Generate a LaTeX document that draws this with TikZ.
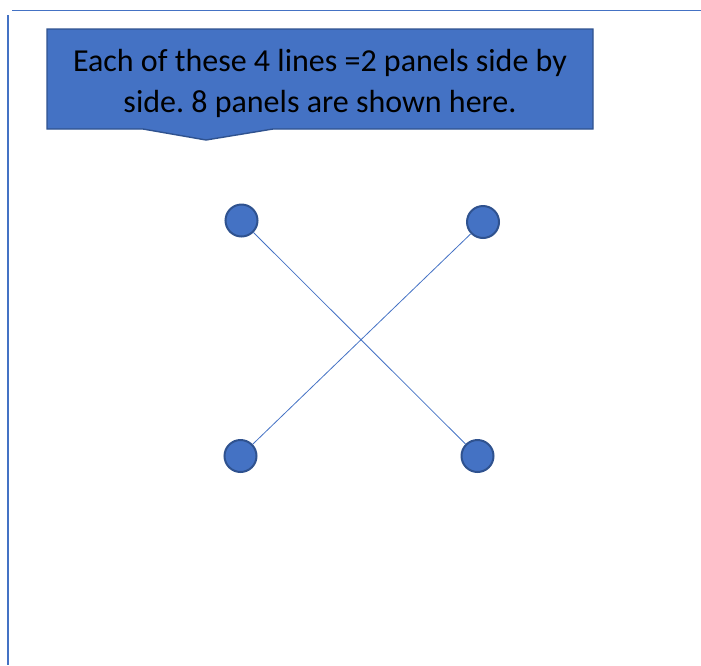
\documentclass[tikz,border=0pt]{standalone}
\usepackage{fontspec}
\setmainfont{Carlito}
\frenchspacing
\definecolor{panelblue}{HTML}{4472C4}
\definecolor{paneledge}{HTML}{2F528F}
\tikzset{
  joint/.style={circle, fill=panelblue, draw=paneledge, line width=2pt, minimum size=32pt, inner sep=0pt},
  panel/.style={panelblue, line width=0.8pt},
  frame/.style={panelblue, line width=1pt},
}

\begin{document}
\begin{tikzpicture}[x=1pt,y=-1pt]
                \useasboundingbox (0,0) rectangle (701,665);
                % page edges
                \coordinate (topA) at (12,10.5);
                \coordinate (topB) at (701,10.5);
                \coordinate (leftA) at (8,15);
                \coordinate (leftB) at (8,665);
                \draw[frame] (topA) -- (topB);
                \draw[frame, line width=1.3pt] (leftA) -- (leftB);
                % callout
                \draw[fill=panelblue, draw=paneledge, line width=1.4pt]
                    (47,29) -- (593,29) -- (593,129) -- (273,129) -- (206,140) -- (143,129) -- (47,129) -- cycle;
                \node[align=center, font=\fontsize{32}{41}\selectfont] (note) at (320,83)
                    {Each of these 4 lines =2 panels side by\\side. 8 panels are shown here.};
                % joints
                \node[joint] (nw) at (241.5,220.5) {};
                \node[joint] (ne) at (483,222) {};
                \node[joint] (sw) at (240.5,456) {};
                \node[joint] (se) at (477.5,456) {};
                \draw[panel] (nw) -- (se);
                \draw[panel] (ne) -- (sw);
            \end{tikzpicture}
\end{document}
